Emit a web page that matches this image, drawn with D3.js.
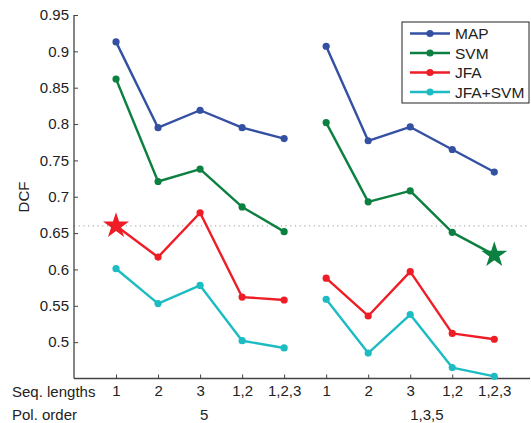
<!DOCTYPE html>
<html>
<head>
<meta charset="utf-8">
<script src="https://cdn.jsdelivr.net/npm/d3@7"></script>
<style>
  body { margin: 0; background: #fff; }
  text { font-family: "Liberation Sans", Arial, sans-serif; fill: #222; }
</style>
</head>
<body>
<svg width="531" height="423"></svg>
<script>
// categories
const seqLengths = ["1", "2", "3", "1,2", "1,2,3", "1", "2", "3", "1,2", "1,2,3"];
const polOrders = ["5", "1,3,5"];
const yTicks = [0.5, 0.55, 0.6, 0.65, 0.7, 0.75, 0.8, 0.85, 0.9, 0.95];

// series values (first 5 -> pol. order 5, last 5 -> pol. order 1,3,5)
const mapVals = [0.913, 0.795, 0.819, 0.795, 0.780, 0.907, 0.777, 0.796, 0.765, 0.734];
const svmVals = [0.862, 0.721, 0.738, 0.686, 0.652, 0.802, 0.693, 0.708, 0.651, 0.620];
const jfaVals = [0.660, 0.617, 0.678, 0.562, 0.558, 0.588, 0.536, 0.597, 0.512, 0.504];
const jfaSvmVals = [0.601, 0.553, 0.578, 0.502, 0.492, 0.559, 0.485, 0.538, 0.465, 0.453];

const refLine = 0.66;

const series = [
  { name: "MAP", color: "#3450a3", values: mapVals, stars: [] },
  { name: "SVM", color: "#0c8040", values: svmVals, stars: [9] },
  { name: "JFA", color: "#ee1d26", values: jfaVals, stars: [0] },
  { name: "JFA+SVM", color: "#1cbcc2", values: jfaSvmVals, stars: [] }
];

const svg = d3.select("svg");
const axisColor = "#444";
const fontSize = 15;

const x = d3.scaleLinear().domain([0, 10.85]).range([74, 530]);
const y = d3.scaleLinear().domain([0.45, 0.95]).range([378.5, 15]);

// dotted reference line
svg.append("line")
  .attr("x1", x(0)).attr("x2", x(10.85))
  .attr("y1", y(refLine)).attr("y2", y(refLine))
  .attr("stroke", "#b0b0b0")
  .attr("stroke-width", 1.2)
  .attr("stroke-dasharray", "1.2,3.5");

// y axis
const yAxis = svg.append("g")
  .attr("transform", `translate(${x(0)},0)`)
  .call(d3.axisLeft(y).tickValues(yTicks).tickSize(-4).tickPadding(5)
    .tickFormat(d => d3.format("")(+d.toFixed(2))));
yAxis.select(".domain").attr("stroke", axisColor).attr("stroke-width", 1.3)
  .attr("d", `M0,${y(0.95)}V${y(0.45)}`);
yAxis.selectAll(".tick line").attr("stroke", axisColor);
yAxis.selectAll("text").attr("font-size", fontSize).attr("fill", "#222");

// x axis
const xAxis = svg.append("g")
  .attr("transform", `translate(0,${y(0.45)})`)
  .call(d3.axisBottom(x).tickValues(d3.range(1, 11)).tickSize(-4).tickPadding(7)
    .tickFormat(d => seqLengths[d - 1]));
xAxis.select(".domain").attr("stroke", axisColor).attr("stroke-width", 1.3)
  .attr("d", `M${x(0)},0H${x(10.85)}`);
xAxis.selectAll(".tick line").attr("stroke", axisColor);
xAxis.selectAll("text").attr("font-size", fontSize).attr("fill", "#222");

svg.append("text")
  .attr("x", 12).attr("y", 397)
  .attr("font-size", fontSize)
  .text("Seq. lengths");
svg.append("text")
  .attr("x", 12).attr("y", 420)
  .attr("font-size", fontSize)
  .text("Pol. order");
polOrders.forEach((p, i) => {
  svg.append("text")
    .attr("x", x(3 + i * 5)).attr("y", 420)
    .attr("font-size", fontSize)
    .text(p);
});

// y label
svg.append("text")
  .attr("transform", "translate(29,197) rotate(-90)")
  .attr("text-anchor", "middle")
  .attr("font-size", fontSize)
  .text("DCF");

// lines
const line = d3.line().x(d => x(d.i + 1)).y(d => y(d.v));
const star = d3.symbol().type(d3.symbolStar).size(210);

series.forEach(s => {
  const pts = s.values.map((v, i) => ({ v, i }));
  [pts.slice(0, 5), pts.slice(5)].forEach(grp => {
    svg.append("path")
      .datum(grp)
      .attr("d", line)
      .attr("fill", "none")
      .attr("stroke", s.color)
      .attr("stroke-width", 2.4)
      .attr("stroke-linejoin", "round");
  });
  svg.selectAll(null)
    .data(pts.filter(p => !s.stars.includes(p.i)))
    .enter().append("circle")
    .attr("cx", d => x(d.i + 1))
    .attr("cy", d => y(d.v))
    .attr("r", 3.6)
    .attr("fill", s.color);
  svg.selectAll(null)
    .data(pts.filter(p => s.stars.includes(p.i)))
    .enter().append("path")
    .attr("d", star)
    .attr("transform", d => `translate(${x(d.i + 1)},${y(d.v)})`)
    .attr("fill", s.color);
});

// legend
const legend = svg.append("g").attr("transform", "translate(402,22)");
legend.append("rect")
  .attr("width", 127).attr("height", 81)
  .attr("fill", "#fff")
  .attr("stroke", "#222")
  .attr("stroke-width", 1);
series.forEach((s, i) => {
  const ly = 11.5 + i * 19.5;
  legend.append("line")
    .attr("x1", 8).attr("x2", 48)
    .attr("y1", ly).attr("y2", ly)
    .attr("stroke", s.color).attr("stroke-width", 2.4);
  legend.append("circle")
    .attr("cx", 28).attr("cy", ly).attr("r", 3.6)
    .attr("fill", s.color);
  legend.append("text")
    .attr("x", 53).attr("y", ly + 5.5)
    .attr("font-size", 15.5)
    .text(s.name);
});
</script>
</body>
</html>
